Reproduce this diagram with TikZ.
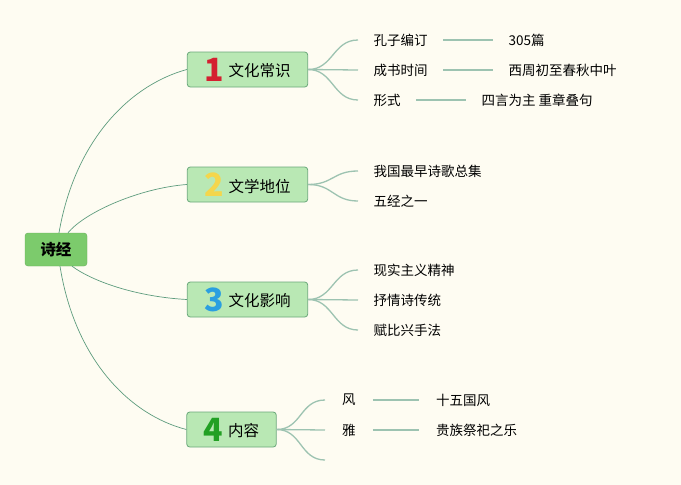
\documentclass[tikz,border=0pt]{standalone}
\usepackage{fontspec}
\setmainfont{Noto Sans CJK SC}
\newfontfamily\numfont{Noto Sans CJK SC}
\begin{document}
\begin{tikzpicture}[x=1pt,y=-1pt,
  rootbox/.style={fill=rootfill,draw=rootfill!85!black,rounded corners=3pt,inner xsep=15.5pt,minimum height=33pt,font=\fontsize{15.5}{16}\selectfont\bfseries},
  topicbox/.style={fill=boxfill,draw=boxline,line width=0.8pt,rounded corners=3pt,inner xsep=17pt,inner ysep=0pt,minimum height=35pt,font=\fontsize{15.5}{16}\selectfont},
  leaf/.style={anchor=west,inner xsep=15.5pt,inner ysep=2pt,font=\fontsize{13.5}{14}\selectfont},
  rootline/.style={draw=rootline,line width=0.7pt},
  subline/.style={draw=subline,line width=1.3pt},
  num/.style={font=\fontsize{33}{33}\selectfont\numfont\bfseries}
]
\definecolor{bg}{HTML}{FEFCF2}
\definecolor{rootfill}{HTML}{7CCB6C}
\definecolor{boxfill}{HTML}{B9E8B4}
\definecolor{boxline}{HTML}{6AA87A}
\definecolor{rootline}{HTML}{5E9C7E}
\definecolor{subline}{HTML}{9DC3B1}
\definecolor{nred}{HTML}{D42030}
\definecolor{nyellow}{HTML}{F4D64C}
\definecolor{nblue}{HTML}{2A9FE0}
\definecolor{ngreen}{HTML}{22A024}
\fill[bg] (0,0) rectangle (681,485);
\useasboundingbox (0,0) rectangle (681,485);

% root
\node[rootbox] (root) at (56,249.5) {诗经};

% topic boxes
\newcommand{\topictext}[2]{\raisebox{-0.28em}{\textcolor{#1}{\fontsize{32}{32}\selectfont\bfseries #2}}\hspace{5pt}}
\node[topicbox] (t1) at (247.5,69.5) {\topictext{nred}{1}文化常识};
\node[topicbox] (t2) at (247.5,184.5) {\topictext{nyellow}{2}文学地位};
\node[topicbox] (t3) at (247.5,299.5) {\topictext{nblue}{3}文化影响};
\node[topicbox] (t4) at (231.5,429.5) {\topictext{ngreen}{4}内容};

% root connectors
\draw[rootline] ([xshift=3pt]root.north) .. controls (75,140) and (130,85) .. (t1.west);
\draw[rootline] ([xshift=12pt]root.north) .. controls (85,212) and (140,188) .. (t2.west);
\draw[rootline] ([xshift=16pt]root.south) .. controls (95,283) and (140,297) .. (t3.west);
\draw[rootline] ([xshift=4pt]root.south) .. controls (75,360) and (130,415) .. (t4.west);

% topic 1
\node[leaf] (a1) at (358,40) {孔子编订};
\node[leaf] (a2) at (358,70) {成书时间};
\node[leaf] (a3) at (358,100) {形式};
\node[leaf] (a1x) at (493,40) {305篇};
\node[leaf] (a2x) at (493,70) {西周初至春秋中叶};
\node[leaf] (a3x) at (466,100) {四言为主 重章叠句};
\foreach \c in {a1,a2,a3}
  \draw[subline] (t1.east) .. controls ([xshift=25pt]t1.east) and ([xshift=-25pt]\c.west) .. (\c.west);
\draw[subline] (a1.east) -- (a1x.west);
\draw[subline] (a2.east) -- (a2x.west);
\draw[subline] (a3.east) -- (a3x.west);

% topic 2
\node[leaf] (b1) at (358,171) {我国最早诗歌总集};
\node[leaf] (b2) at (358,201) {五经之一};
\foreach \c in {b1,b2}
  \draw[subline] (t2.east) .. controls ([xshift=25pt]t2.east) and ([xshift=-25pt]\c.west) .. (\c.west);

% topic 3
\node[leaf] (c1) at (358,270) {现实主义精神};
\node[leaf] (c2) at (358,300) {抒情诗传统};
\node[leaf] (c3) at (358,330) {赋比兴手法};
\foreach \c in {c1,c2,c3}
  \draw[subline] (t3.east) .. controls ([xshift=25pt]t3.east) and ([xshift=-25pt]\c.west) .. (\c.west);

% topic 4
\node[leaf,inner xsep=17pt] (d1) at (325,400) {风};
\node[leaf,inner xsep=17pt] (d2) at (325,430) {雅};
\coordinate (d3) at (325,460);
\node[leaf,inner xsep=17pt] (d1x) at (419,400) {十五国风};
\node[leaf,inner xsep=17pt] (d2x) at (419,430) {贵族祭祀之乐};
\foreach \c in {d1.west,d2.west,d3}
  \draw[subline] (t4.east) .. controls ([xshift=25pt]t4.east) and ([xshift=-25pt]\c) .. (\c);
\draw[subline] (d1.east) -- (d1x.west);
\draw[subline] (d2.east) -- (d2x.west);
\end{tikzpicture}
\end{document}
